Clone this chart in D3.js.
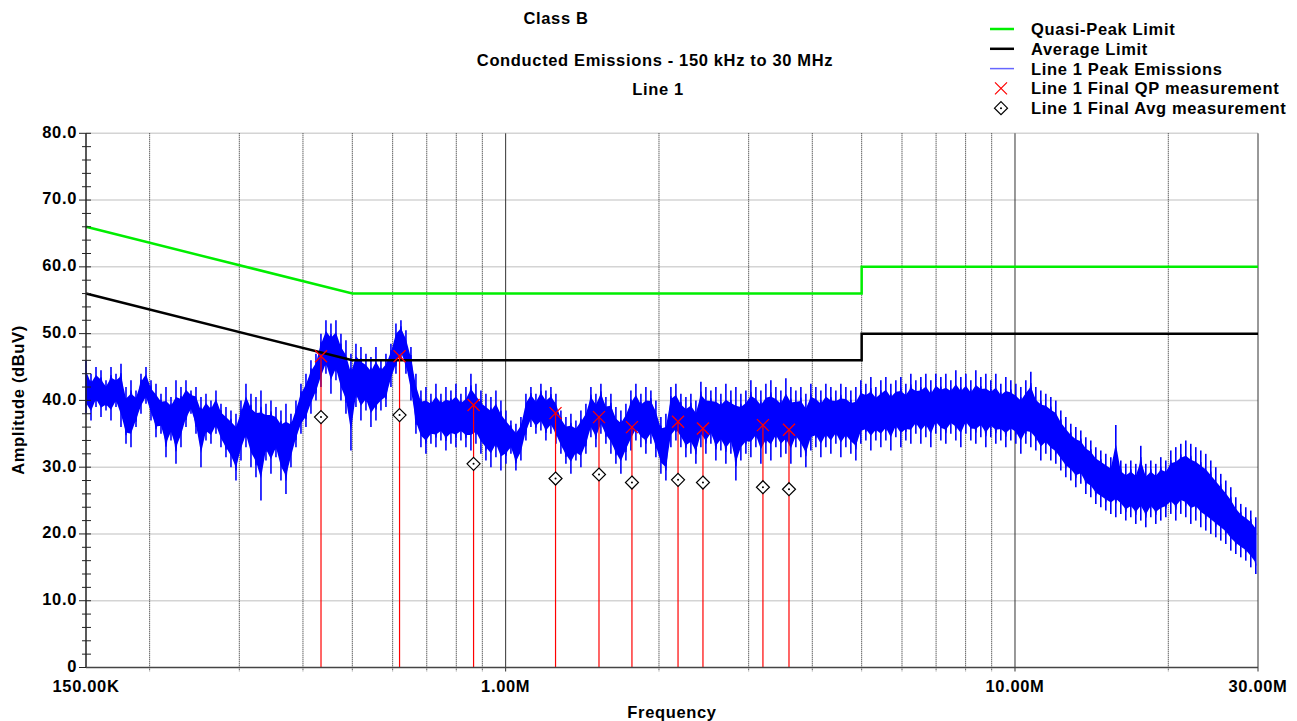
<!DOCTYPE html>
<html>
<head>
<meta charset="utf-8">
<script src="https://cdn.jsdelivr.net/npm/d3@7"></script>
<style>
  body { margin: 0; background: #fff; }
  text { font-family: Arial, "Liberation Sans", sans-serif; font-weight: bold; fill: #000; letter-spacing: 0.65px; }
</style>
</head>
<body>
<div id="chart"></div>
<script>

// limit lines (frequency in MHz, amplitude in dBuV)
const limitFreq = [0.15, 0.5, 5, 5, 30];
const qpLimit   = [66, 56, 56, 60, 60];
const avgLimit  = [56, 46, 46, 50, 50];

// final measurements
const measFreq = [0.434, 0.619, 0.865, 1.253, 1.525, 1.77, 2.18, 2.44, 3.2, 3.6];
const qpMeas   = [46.6, 46.6, 39.3, 38.1, 37.5, 36.0, 36.8, 35.8, 36.3, 35.6];
const avgMeas  = [37.5, 37.8, 30.5, 28.3, 28.9, 27.7, 28.1, 27.7, 27.0, 26.7];

// peak scan, min / max of each display bin, log sweep 0.15 - 29.7 MHz
const sweepStart = 0.15, sweepStop = 29.7;
const peakHi = [
  46,44,45,44.5,43,45,44,45.5,42,43,
  41.5,44,45,43,42.5,41,42,40.5,43,42,
  43,41.5,42,40.5,41,40,41.5,39.5,39,38.5,
  38,40,42.5,41,40.5,41.5,39.5,40,39,38.5,
  39.5,38,40,42.5,44,46,47,50,52,51.5,
  52,50,49,47,48.5,48,47,46.5,48,46,
  47,48.5,51.5,52,50.5,48,44,41.5,42,41,
  42.5,41,42,41.5,42.5,41,42,44,42.5,41.5,
  41,40.5,41.5,40,38.5,37,36.5,37.5,41,42,
  41,42.5,41.5,42,41,38.5,37.5,38,37,38.5,
  39.5,42,41,42.5,40.5,41,39,38.5,39.5,41.5,
  42.5,41,42,41.5,40,37.5,38,42,42.5,41,
  40.5,41,40,42.8,42,41.5,42,41,42.5,41.5,
  42,41,41.5,43,42,41.5,42.5,43,42,41.5,
  43.3,42,41.5,42,41,42.5,42,41.5,42.5,42,
  41.5,42.5,42,41.5,42,43,42.5,43.5,42,43,
  43.5,42.5,43,43.5,42.5,44,43,43.5,44,43,
  44,43.5,44,43,44.5,43.5,44,43,44.5,43.5,
  44,43,44,42.5,43.5,43,42.5,42,43,44.3,
  42,41.5,41,40.5,40,38.5,37.5,36.5,36,35.5,
  34.5,34,33,32.5,32,31.5,36.3,31,30.5,31,
  30.5,33.2,30.5,31,30.5,31.5,31,32.5,33,33.5,
  34,33.5,33,32.5,32,31,30,29,28,27,
  25.5,24.5,24,23.5,22.5
];
const peakLo = [
  38,37,39,37.5,38.5,37,39,36,33.5,33,
  36,38,39.5,37,34.5,35,31.5,34,30.5,33,
  36,38,35,30,34,33.5,35,33,31.5,30,
  28,31,33,30,28.5,25,31,29,31.5,28,
  26,30,33,35,36,38,40,42,44,41,
  43,40,38,32.5,39,37,38.5,36,37,38.5,
  39,42,44,46,44,40,35,33,32,33.5,
  33,34,32.5,33.5,33,34,33,32.5,33.5,32,
  31,30,31.5,29.5,30.5,32,29.5,31,34,36,
  35,35.5,34,35,33.5,32,30.5,29,31,30,
  32,34.5,33,35,33.5,32,30.5,29,31,32.5,
  34,33,32,33.5,31.5,29,28,33,34,33,
  31.5,32,30.5,33,32,33.5,31,32.5,30.5,32,
  28,31,32,31.5,33,30.5,32,31,33,31.5,
  32,30.5,33,31.5,30,32.5,33,31.5,33,32,
  33.5,31.5,33,32,31,33.5,34,32.5,34,33,
  34,32.5,34.5,33,34,33.5,35,33.5,34.5,33,
  35,34,33.5,35,34,33,35,34,33.5,34.5,
  33,34.5,33.5,34,33,34,33.5,32,33.5,33,
  32.5,31,32,31,30.5,29.5,28.5,28,27,27.5,
  26,25.5,24.5,24,23.5,23,22.5,23,22,22.5,
  21.5,22,21,22.5,21.5,22,22.5,23,22,23,
  22.5,21.5,22,21,20.5,20,19.5,19,18.5,17.5,
  17,16.5,16,15,14
];

// axis ticks
const gridFreq = [0.2,0.3,0.4,0.5,0.6,0.7,0.8,0.9,1,2,3,4,5,6,7,8,9,10,20,30];
const xLabelFreq = [0.15, 1, 10, 30];
const xLabelText = ["150.00K", "1.00M", "10.00M", "30.00M"];
const yMajor = [0,10,20,30,40,50,60,70,80];
const yMinor = d3.range(0, 81, 2);

const legendNames = ["Quasi-Peak Limit", "Average Limit", "Line 1 Peak Emissions",
                     "Line 1 Final QP measurement", "Line 1 Final Avg measurement"];

let width = 1297, height = 721;
let svg = d3.select("#chart").append("svg")
  .attr("width", width).attr("height", height);

let x = d3.scaleLog().domain([0.15, 30]).range([86, 1258]);
let y = d3.scaleLinear().domain([0, 80]).range([667.5, 133.3]);

// horizontal grid
svg.selectAll("hgrid").data(yMajor.filter(d => d > 0)).enter().append("line")
  .attr("x1", x(0.15)).attr("x2", x(30))
  .attr("y1", d => y(d)).attr("y2", d => y(d))
  .style("stroke", "#d4d4d4").style("stroke-width", 1.5);

// vertical grid + bottom ticks
svg.selectAll("vgrid").data(gridFreq).enter().append("line")
  .attr("x1", d => x(d)).attr("x2", d => x(d))
  .attr("y1", y(80)).attr("y2", y(0) + 4)
  .style("stroke", d => (d === 1 || d === 10 || d === 30) ? "#333" : "#222")
  .style("stroke-dasharray", d => (d === 1 || d === 10 || d === 30) ? null : "1,1")
  .style("stroke-width", 1);

// peak emissions trace
let n = peakHi.length;
let peakFreq = peakHi.map((v, i) => sweepStart * Math.pow(sweepStop / sweepStart, i / (n - 1)));

// dense core of each bin (middle part of min..max), filled
let inset = 0.2;
svg.append("path")
  .attr("d", d3.area()
    .x(f => x(f))
    .y0((f, i) => y(peakLo[i] + inset * (peakHi[i] - peakLo[i])))
    .y1((f, i) => y(peakHi[i] - inset * (peakHi[i] - peakLo[i])))(peakFreq))
  .style("fill", "#0000ff").style("stroke", "none");

// min..max spike of every bin
svg.selectAll("spike").data(peakFreq).enter().append("line")
  .attr("x1", f => x(f)).attr("x2", f => x(f))
  .attr("y1", (f, i) => y(peakHi[i])).attr("y2", (f, i) => y(peakLo[i]))
  .style("stroke", "#0000ff").style("stroke-width", 1.6);

// thin zigzag joining the bins
let peakPts = peakFreq.map((f, i) => [f, i % 2
  ? peakHi[i] - 0.15 * (peakHi[i] - peakLo[i])
  : peakLo[i] + 0.15 * (peakHi[i] - peakLo[i])]);
svg.append("path")
  .attr("d", d3.line().x(d => x(d[0])).y(d => y(d[1]))(peakPts))
  .style("fill", "none").style("stroke", "#0000ff").style("stroke-width", 1.2);

// limits
let limitLine = vals => d3.line()(limitFreq.map((f, i) => [x(f), y(vals[i])]));
svg.append("path").attr("d", limitLine(qpLimit))
  .style("fill", "none").style("stroke", "#00ee00").style("stroke-width", 2.5);
svg.append("path").attr("d", limitLine(avgLimit))
  .style("fill", "none").style("stroke", "#000").style("stroke-width", 2.5);

// measurement stems
svg.selectAll("stem").data(measFreq).enter().append("line")
  .attr("x1", d => x(d)).attr("x2", d => x(d))
  .attr("y1", (d, i) => y(qpMeas[i])).attr("y2", y(0))
  .style("stroke", "#ff0000").style("stroke-width", 1.2);

let crossPath = "M-6,-6L6,6M6,-6L-6,6";
let diamondPath = "M0,-6.5L6.5,0L0,6.5L-6.5,0Z";

svg.selectAll("qp").data(measFreq).enter().append("path")
  .attr("transform", (d, i) => "translate(" + x(d) + "," + y(qpMeas[i]) + ")")
  .attr("d", crossPath)
  .style("stroke", "#ff0000").style("stroke-width", 1.3).style("fill", "none");

let avgG = svg.selectAll("avg").data(measFreq).enter().append("g")
  .attr("transform", (d, i) => "translate(" + x(d) + "," + y(avgMeas[i]) + ")");
avgG.append("path").attr("d", diamondPath)
  .style("fill", "#fff").style("stroke", "#000").style("stroke-width", 1.2);
avgG.append("circle").attr("r", 1).style("fill", "#000");

// y axis with minor ticks
svg.append("line")
  .attr("x1", x(0.15)).attr("x2", x(0.15)).attr("y1", y(80)).attr("y2", y(0))
  .style("stroke", "#222").style("stroke-width", 1.5);
svg.selectAll("ytick").data(yMinor).enter().append("line")
  .attr("x1", d => d % 10 === 0 ? 79 : 82).attr("x2", 91)
  .attr("y1", d => y(d)).attr("y2", d => y(d))
  .style("stroke", "#222").style("stroke-width", 1);
svg.selectAll("ylab").data(yMajor).enter().append("text")
  .attr("x", 77).attr("y", d => y(d))
  .attr("text-anchor", "end").attr("dominant-baseline", "middle")
  .style("font-size", "16.5px")
  .text(d => d === 0 ? "0" : d.toFixed(1));

// x axis
svg.append("line")
  .attr("x1", x(0.15)).attr("x2", x(30)).attr("y1", y(0)).attr("y2", y(0))
  .style("stroke", "#444").style("stroke-width", 1.5);
svg.selectAll("xlab").data(xLabelFreq).enter().append("text")
  .attr("x", d => x(d)).attr("y", 692)
  .attr("text-anchor", "middle").style("font-size", "16.5px")
  .text((d, i) => xLabelText[i]);

// axis titles
svg.append("text").attr("x", 672).attr("y", 718).attr("text-anchor", "middle")
  .style("font-size", "16.5px").text("Frequency");
svg.append("text")
  .attr("transform", "translate(24,400) rotate(-90)")
  .attr("text-anchor", "middle").style("font-size", "16.5px")
  .text("Amplitude (dBuV)");

// titles
svg.append("text").attr("x", 556).attr("y", 24).attr("text-anchor", "middle")
  .style("font-size", "16.5px").text("Class B");
svg.append("text").attr("x", 655).attr("y", 66).attr("text-anchor", "middle")
  .style("font-size", "16.5px").text("Conducted Emissions - 150 kHz to 30 MHz");
svg.append("text").attr("x", 658).attr("y", 95).attr("text-anchor", "middle")
  .style("font-size", "16.5px").text("Line 1");

// Handmade legend
let legend = svg.append("g");
let rowY = i => 29 + i * 19.8;
legend.append("line").attr("x1", 990).attr("x2", 1014).attr("y1", rowY(0)).attr("y2", rowY(0))
  .style("stroke", "#00ee00").style("stroke-width", 2.5);
legend.append("line").attr("x1", 990).attr("x2", 1014).attr("y1", rowY(1)).attr("y2", rowY(1))
  .style("stroke", "#000").style("stroke-width", 2.5);
legend.append("line").attr("x1", 990).attr("x2", 1014).attr("y1", rowY(2)).attr("y2", rowY(2))
  .style("stroke", "#6666ff").style("stroke-width", 1.5);
legend.append("path").attr("transform", "translate(1001," + rowY(3) + ")")
  .attr("d", crossPath).style("stroke", "#ff0000").style("stroke-width", 1.2);
legend.append("path").attr("transform", "translate(1001," + rowY(4) + ")")
  .attr("d", diamondPath).style("fill", "#fff").style("stroke", "#000").style("stroke-width", 1.2);
legend.append("circle").attr("cx", 1001).attr("cy", rowY(4)).attr("r", 1).style("fill", "#000");
legend.selectAll("ltext").data(legendNames).enter().append("text")
  .attr("x", 1031).attr("y", (d, i) => rowY(i) + 6)
  .style("font-size", "16.5px")
  .text(d => d);

</script>
</body>
</html>
